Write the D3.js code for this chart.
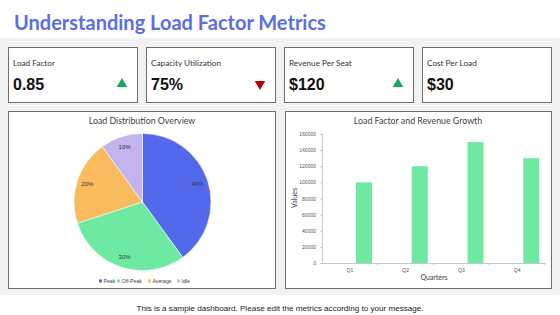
<!DOCTYPE html>
<html>
<head>
<meta charset="utf-8">
<script src="https://cdn.jsdelivr.net/npm/d3@7"></script>
<style>
  body { margin: 0; background: #fff; }
  svg { display: block; }
</style>
</head>
<body>
<svg id="dash" width="560" height="315"></svg>
<script>
// kpi cards
let kpi_labels = ['Load Factor', 'Capacity Utilization', 'Revenue Per Seat', 'Cost Per Load'];
let kpi_values = ['0.85', '75%', '$120', '$30'];
let kpi_trend = ['up', 'down', 'up', 'none'];

// pie
let pie_labels = ['Peak', 'Off-Peak', 'Average', 'Idle'];
let pie_values = [40, 30, 20, 10];
let pie_colors = ['#5468ec', '#6ee9a2', '#f8bb5e', '#c3b3ef'];

// bars
let quarters = ['Q1', 'Q2', 'Q3', 'Q4'];
let series_names = ['Load Factor', 'Revenue'];
let load_factor = [0.82, 0.85, 0.88, 0.86];
let revenue = [100000, 120000, 150000, 130000];
let y_ticks = [0, 20000, 40000, 60000, 80000, 100000, 120000, 140000, 160000];

let label_font = 'Lato, "DejaVu Sans", sans-serif';
let num_font = '"Liberation Sans", Arial, sans-serif';

let svg = d3.select('#dash');

// title
svg.append('text')
  .attr('x', 14).attr('y', 30)
  .attr('font-family', 'Lato, sans-serif')
  .attr('font-weight', 'bold')
  .attr('font-size', 20)
  .attr('fill', '#5b6ee1')
  .text('Understanding Load Factor Metrics');

// gray band
svg.append('rect')
  .attr('x', 0).attr('y', 38)
  .attr('width', 560).attr('height', 257)
  .attr('fill', '#f2f2f2');

// kpi cards
let card_x = d3.scaleBand().domain(d3.range(4)).range([8, 552]).paddingInner(0.058);

let cards = svg.selectAll('.kpi')
  .data(kpi_labels)
  .enter().append('g')
  .attr('class', 'kpi')
  .attr('transform', (d, i) => `translate(${card_x(i)}, 47)`);

cards.append('rect')
  .attr('x', 0.5).attr('y', 0.5)
  .attr('width', card_x.bandwidth() - 1).attr('height', 55)
  .attr('fill', '#fff')
  .attr('stroke', '#6f6f6f');

cards.append('text')
  .attr('x', 5).attr('y', 19)
  .attr('font-family', label_font)
  .attr('font-size', 8.2)
  .attr('fill', '#333')
  .text(d => d);

cards.append('text')
  .attr('x', 5).attr('y', 43)
  .attr('font-family', num_font)
  .attr('font-weight', 'bold')
  .attr('font-size', 16)
  .attr('fill', '#111')
  .text((d, i) => kpi_values[i]);

let tri = d3.symbol().type(d3.symbolTriangle).size(48);
cards.filter((d, i) => kpi_trend[i] != 'none')
  .append('path')
  .attr('d', tri)
  .attr('transform', (d, i) => {
    let t = kpi_trend[kpi_labels.indexOf(d)];
    return `translate(114, 37) rotate(${t == 'down' ? 180 : 0})`;
  })
  .attr('fill', d => kpi_trend[kpi_labels.indexOf(d)] == 'down' ? '#c00000' : '#1aa55a');

// panels
let panels = [{x: 8, w: 268, title: 'Load Distribution Overview'},
              {x: 285, w: 267, title: 'Load Factor and Revenue Growth'}];
svg.selectAll('.panel')
  .data(panels)
  .enter().append('rect')
  .attr('class', 'panel')
  .attr('x', d => d.x + 0.5).attr('y', 111.5)
  .attr('width', d => d.w - 1).attr('height', 177)
  .attr('fill', '#fff')
  .attr('stroke', '#6f6f6f');

svg.selectAll('.panel-title')
  .data(panels)
  .enter().append('text')
  .attr('class', 'panel-title')
  .attr('x', (d, i) => i == 0 ? 142 : 418).attr('y', 124)
  .attr('text-anchor', 'middle')
  .attr('font-family', label_font)
  .attr('font-size', 8.8)
  .attr('fill', '#404040')
  .text(d => d.title);

// pie
let pie = d3.pie().sort(null).value(d => d)(pie_values);
let arc = d3.arc().innerRadius(0).outerRadius(68.5);
let label_arc = d3.arc().innerRadius(58).outerRadius(58);
let pie_g = svg.append('g').attr('transform', 'translate(142.5, 202)');

pie_g.selectAll('path')
  .data(pie)
  .enter().append('path')
  .attr('d', arc)
  .attr('fill', (d, i) => pie_colors[i])
  .attr('stroke', '#fff')
  .attr('stroke-width', 0.5);

pie_g.selectAll('.pct')
  .data(pie)
  .enter().append('text')
  .attr('class', 'pct')
  .attr('transform', d => `translate(${label_arc.centroid(d)})`)
  .attr('text-anchor', 'middle')
  .attr('dy', '0.35em')
  .attr('font-family', num_font)
  .attr('font-size', 6)
  .attr('fill', '#333')
  .text(d => d.data + '%');

// pie legend
let legend_x = [99, 117, 148, 177];
let legend = svg.selectAll('.leg')
  .data(pie_labels)
  .enter().append('g')
  .attr('class', 'leg')
  .attr('transform', (d, i) => `translate(${legend_x[i]}, 281)`);
legend.append('rect')
  .attr('x', 0).attr('y', -1.5)
  .attr('width', 3).attr('height', 3)
  .attr('fill', (d, i) => pie_colors[i]);
legend.append('text')
  .attr('x', 4.5).attr('dy', '0.35em')
  .attr('font-family', num_font)
  .attr('font-size', 5.2)
  .attr('fill', '#444')
  .text(d => d);

// bar chart
let bar_x = d3.scaleBand().domain(quarters).range([322, 545]);
let bar_sub = d3.scaleBand().domain(series_names).range([0, bar_x.bandwidth()])
  .paddingInner(0.434).paddingOuter(0.2035);
let bar_y = d3.scaleLinear().domain([0, 160000]).range([263, 134]);

let rows = quarters.map((q, i) => ({q: q, values: [load_factor[i], revenue[i]]}));

svg.append('g')
  .selectAll('g')
  .data(rows)
  .enter().append('g')
  .attr('transform', d => `translate(${bar_x(d.q)}, 0)`)
  .selectAll('rect')
  .data(d => d.values.map((v, j) => ({s: series_names[j], v: v})))
  .enter().append('rect')
  .attr('x', d => bar_sub(d.s))
  .attr('y', d => bar_y(d.v))
  .attr('width', bar_sub.bandwidth())
  .attr('height', d => bar_y(0) - bar_y(d.v))
  .attr('fill', '#6ee9a2');

let y_axis = svg.append('g')
  .attr('transform', 'translate(322, 0)')
  .call(d3.axisLeft(bar_y).tickValues(y_ticks).tickSize(2).tickPadding(4).tickFormat(d3.format('d')));
y_axis.select('.domain').attr('stroke', '#c8c8c8');
y_axis.selectAll('.tick line').attr('stroke', '#c8c8c8');
y_axis.selectAll('text').attr('font-family', num_font).attr('font-size', 5).attr('fill', '#555');

let x_axis = svg.append('g')
  .attr('transform', 'translate(0, 263)')
  .call(d3.axisBottom(bar_x).tickSize(0).tickPadding(5));
x_axis.select('.domain').attr('stroke', '#c8c8c8');
x_axis.selectAll('text').attr('font-family', num_font).attr('font-size', 5).attr('fill', '#555');
x_axis.selectAll('.sep')
  .data(quarters)
  .enter().append('line')
  .attr('class', 'sep')
  .attr('x1', d => bar_x(d) + bar_x.bandwidth()).attr('x2', d => bar_x(d) + bar_x.bandwidth())
  .attr('y1', 0).attr('y2', 2)
  .attr('stroke', '#c8c8c8');

svg.append('text')
  .attr('transform', 'translate(297, 198) rotate(-90)')
  .attr('text-anchor', 'middle')
  .attr('font-family', label_font)
  .attr('font-size', 7)
  .attr('fill', '#404040')
  .text('Values');

svg.append('text')
  .attr('x', 434).attr('y', 280)
  .attr('text-anchor', 'middle')
  .attr('font-family', label_font)
  .attr('font-size', 7)
  .attr('fill', '#404040')
  .text('Quarters');

// footer
svg.append('text')
  .attr('x', 280).attr('y', 311)
  .attr('text-anchor', 'middle')
  .attr('font-family', num_font)
  .attr('font-size', 8.1)
  .attr('fill', '#222')
  .text('This is a sample dashboard. Please edit the metrics according to your message.');
</script>
</body>
</html>
